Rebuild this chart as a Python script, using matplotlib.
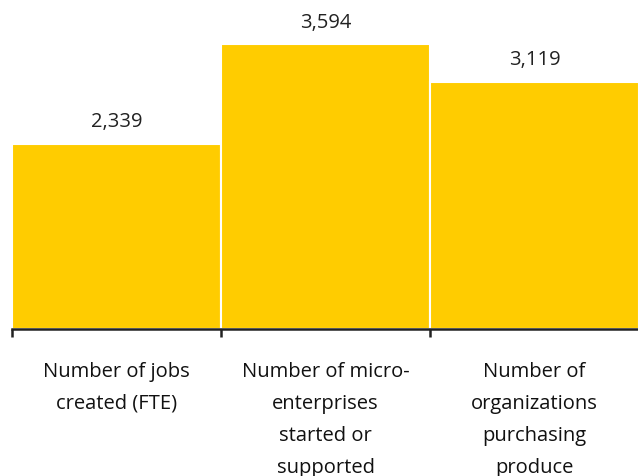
import matplotlib
matplotlib.use("Agg")
import matplotlib.pyplot as plt

categories = ["Number of jobs\ncreated (FTE)",
              "Number of micro-\nenterprises\nstarted or\nsupported",
              "Number of\norganizations\npurchasing\nproduce"]
values = [2339, 3594, 3119]
value_labels = ["2,339", "3,594", "3,119"]

plt.rcParams['font.family'] = ['Open Sans', 'DejaVu Sans']

fig = plt.figure(figsize=(6.38, 4.77), dpi=100)
ax = fig.add_axes([12/638, (477-330)/477, 627/638, 330/477])

x = list(range(len(values)))
ax.bar(x, values, width=1.0, color="#FFCC00", edgecolor="white", linewidth=1.5)
ax.set_xlim(-0.5, 2.5)
ax.set_ylim(0, 3594*330/285)

for xi, v, lab in zip(x, values, value_labels):
    ax.annotate(lab, (xi, v), xytext=(0, 9), textcoords="offset points",
                ha="center", va="bottom", fontsize=14.5, color="#222222")

for s in ["top", "right", "left"]:
    ax.spines[s].set_visible(False)
ax.spines["bottom"].set_color("#222222")
ax.spines["bottom"].set_linewidth(1.8)
ax.set_yticks([])
ax.set_xticks([-0.5, 0.5, 1.5], minor=False)
ax.set_xticklabels([])
ax.tick_params(axis="x", which="major", length=6, width=1.8, color="#222222")
ax.set_xticks(x, minor=True)
ax.set_xticklabels(categories, minor=True, fontsize=14.5, linespacing=1.8, color="#111111")
ax.tick_params(axis="x", which="minor", length=0, pad=23)

fig.savefig("out.png", dpi=100)
